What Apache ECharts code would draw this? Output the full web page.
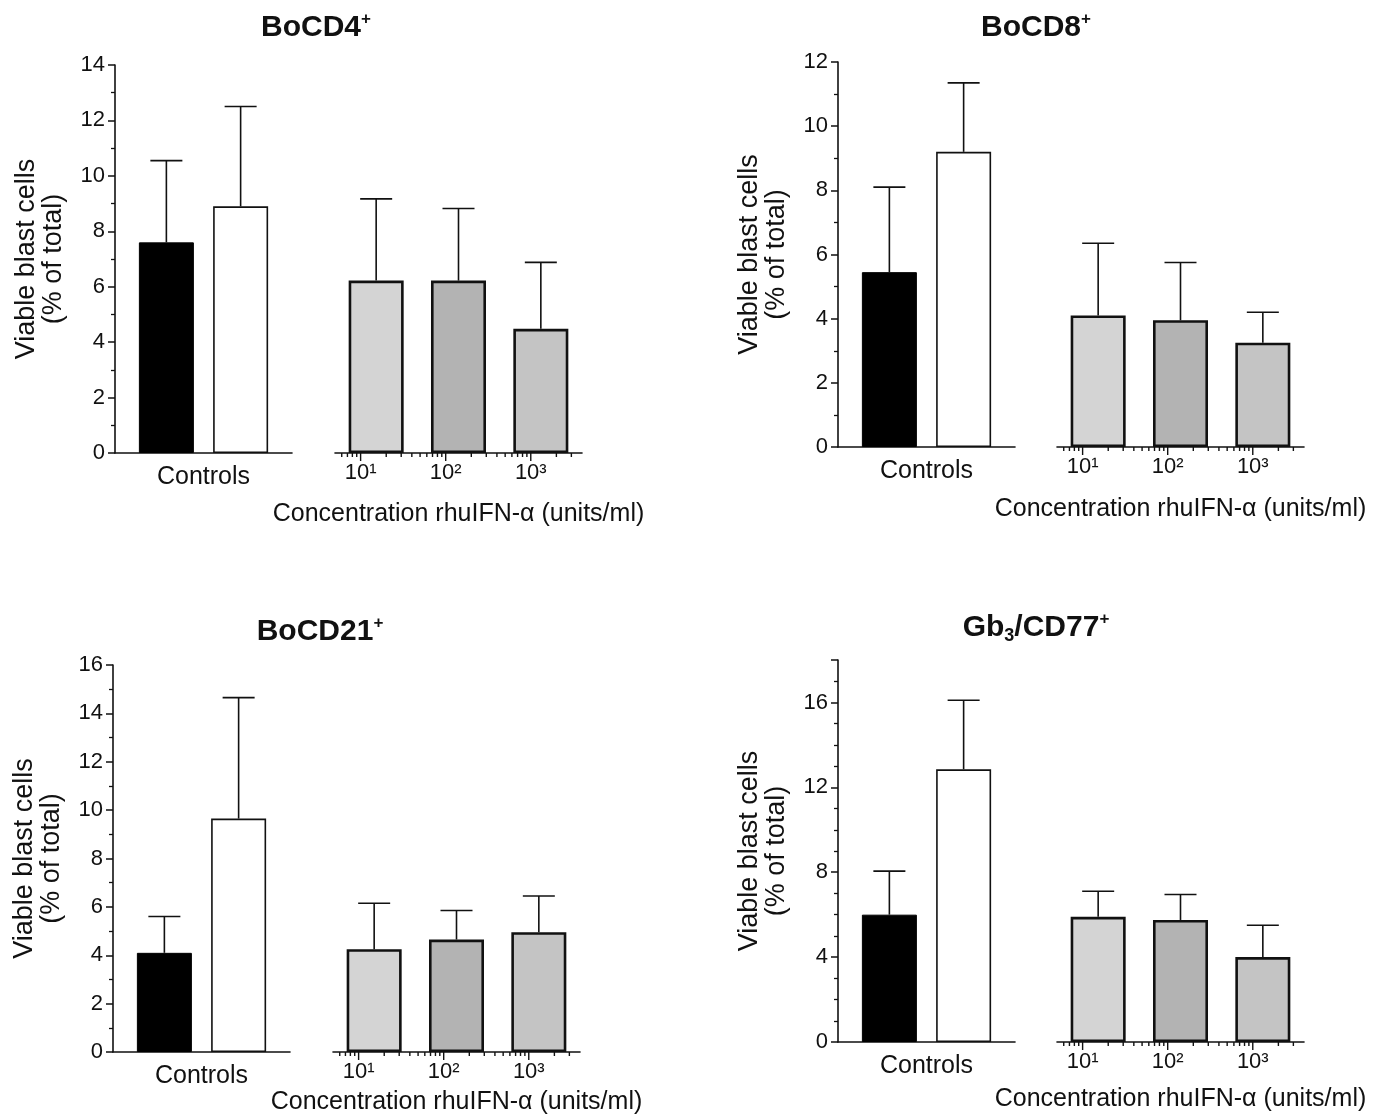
<!DOCTYPE html>
<html>
<head>
<meta charset="utf-8">
<script src="https://cdn.jsdelivr.net/npm/echarts@6/dist/echarts.min.js"></script>
<style>
html, body { margin: 0; padding: 0; background: #fff; }
#chart { width: 1377px; height: 1117px; }
</style>
</head>
<body>
<div id="chart"></div>
<script>
// ---- data ----
var panelTitles = ['BoCD4{sup|+}', 'BoCD8{sup|+}', 'BoCD21{sup|+}', 'Gb{sub|3}/CD77{sup|+}'];
var controlCategory = ['Controls'];
var doseCategories = ['10', '100', '1000'];
var doseTickValues = [10, 100, 1000];
var doseTickLabels = ['10\u00b9', '10\u00b2', '10\u00b3'];
var doseMinorTicks = [6, 7, 8, 9, 20, 30, 40, 50, 60, 70, 80, 90,
    200, 300, 400, 500, 600, 700, 800, 900, 2000, 3000];
var yAxisMax = [14, 12, 16, 18];
var yAxisStep = [2, 2, 2, 4];
var yMinorSplit = [2, 2, 2, 4];

// controls: [black, white]; dose: [10^1, 10^2, 10^3]; sd = upper error bar
var cd4Controls = [7.6, 8.9];
var cd4ControlsSd = [2.95, 3.6];
var cd4Dose = [6.22, 6.22, 4.48];
var cd4DoseSd = [2.95, 2.6, 2.4];

var cd8Controls = [5.45, 9.2];
var cd8ControlsSd = [2.65, 2.15];
var cd8Dose = [4.1, 3.95, 3.25];
var cd8DoseSd = [2.25, 1.8, 0.95];

var cd21Controls = [4.1, 9.65];
var cd21ControlsSd = [1.5, 5.0];
var cd21Dose = [4.25, 4.65, 4.95];
var cd21DoseSd = [1.9, 1.2, 1.5];

var cd77Controls = [6.0, 12.85];
var cd77ControlsSd = [2.05, 3.25];
var cd77Dose = [5.9, 5.75, 4.0];
var cd77DoseSd = [1.2, 1.2, 1.5];

var panels = [
    {ctrl: cd4Controls, ctrlSd: cd4ControlsSd, dose: cd4Dose, doseSd: cd4DoseSd},
    {ctrl: cd8Controls, ctrlSd: cd8ControlsSd, dose: cd8Dose, doseSd: cd8DoseSd},
    {ctrl: cd21Controls, ctrlSd: cd21ControlsSd, dose: cd21Dose, doseSd: cd21DoseSd},
    {ctrl: cd77Controls, ctrlSd: cd77ControlsSd, dose: cd77Dose, doseSd: cd77DoseSd}
];

// ---- layout ----
var layout = [
    {titleX: 316, titleY: 28, axisX: 115, top: 65, bottom: 453, doseLeft: 335, nameGap: 50},
    {titleX: 1036, titleY: 28, axisX: 838, top: 62, bottom: 447, doseLeft: 1057, nameGap: 51},
    {titleX: 320, titleY: 632, axisX: 113, top: 665, bottom: 1052, doseLeft: 333, nameGap: 39},
    {titleX: 1036, titleY: 628, axisX: 838, top: 660, bottom: 1042, doseLeft: 1057, nameGap: 46}
];
var FONT = 'Liberation Sans, Arial, sans-serif';
var INK = '#111';
var doseColors = ['#d4d4d4', '#b3b3b3', '#c4c4c4'];
var BAR_W = 55, BAR_GAP = '35%';

var chart = echarts.init(document.getElementById('chart'), null, {renderer: 'canvas'});

function errorBar(params, api) {
    var cat = api.value(0), mean = api.value(1), sd = api.value(2), slot = api.value(3);
    var base = api.coord([cat, mean]);
    var top = api.coord([cat, mean + sd]);
    var dx = 0;
    if (slot >= 0) {
        var lay = api.barLayout({count: 2, barWidth: BAR_W, barGap: BAR_GAP});
        dx = lay[slot].offsetCenter;
    }
    var x = base[0] + dx;
    var st = {stroke: INK, lineWidth: 1.6};
    return {type: 'group', children: [
        {type: 'line', shape: {x1: x, y1: base[1], x2: x, y2: top[1]}, style: st},
        {type: 'line', shape: {x1: x - 16, y1: top[1], x2: x + 16, y2: top[1]}, style: st}
    ]};
}

function logTick(params, api) {
    var p = api.coord([api.value(0), 0]);
    var len = api.value(2);
    return {type: 'line', shape: {x1: p[0], y1: p[1], x2: p[0], y2: p[1] + len},
        style: {stroke: INK, lineWidth: 1.4}};
}

var option = {
    backgroundColor: '#fff',
    animation: false,
    textStyle: {fontFamily: FONT, color: INK},
    title: [], grid: [], xAxis: [], yAxis: [], series: []
};

panels.forEach(function (p, i) {
    var L = layout[i];
    var h = L.bottom - L.top;
    var gc = 2 * i, gd = 2 * i + 1;
    var xc = 3 * i, xd = 3 * i + 1, xl = 3 * i + 2;

    option.title.push({
        text: panelTitles[i], left: L.titleX, top: L.titleY, padding: 0,
        textAlign: 'center', textVerticalAlign: 'middle',
        textStyle: {fontFamily: FONT, fontSize: 30, fontWeight: 'bold', color: INK, lineHeight: 34,
            rich: {
                sup: {fontFamily: FONT, fontSize: 17, fontWeight: 'bold', color: INK, verticalAlign: 'top', lineHeight: 20},
                sub: {fontFamily: FONT, fontSize: 18, fontWeight: 'bold', color: INK, verticalAlign: 'bottom', lineHeight: 14}
            }}
    });

    option.grid.push({left: L.axisX, top: L.top, width: 177, height: h, outerBoundsMode: 'none'});
    option.grid.push({left: L.doseLeft, top: L.top, width: 247, height: h, outerBoundsMode: 'none'});

    var axisLine = {show: true, lineStyle: {color: INK, width: 1.6}};
    option.xAxis.push({
        type: 'category', gridIndex: gc, data: controlCategory,
        axisLine: axisLine, axisTick: {show: false},
        axisLabel: {fontSize: 25, margin: 12, color: INK, fontFamily: FONT}
    });
    option.xAxis.push({type: 'category', gridIndex: gd, data: doseCategories, show: false});
    option.xAxis.push({
        type: 'log', logBase: 10, gridIndex: gd, min: 5, max: 4000, position: 'bottom',
        axisLine: axisLine, axisTick: {show: false}, splitLine: {show: false},
        axisLabel: {fontSize: 22, margin: 9, color: INK, fontFamily: FONT,
            formatter: function (v) {
                for (var k = 0; k < doseTickValues.length; k++) {
                    if (Math.abs(v - doseTickValues[k]) < doseTickValues[k] * 1e-6) return doseTickLabels[k];
                }
                return '';
            }},
        name: 'Concentration rhuIFN-\u03b1 (units/ml)', nameLocation: 'middle', nameGap: L.nameGap - 1,
        nameTextStyle: {fontSize: 25, color: INK, fontFamily: FONT}
    });

    option.yAxis.push({
        type: 'value', gridIndex: gc, min: 0, max: yAxisMax[i], interval: yAxisStep[i],
        axisLine: axisLine,
        axisTick: {show: true, length: 7, lineStyle: {color: INK, width: 1.5}},
        minorTick: {show: true, splitNumber: yMinorSplit[i], length: 4, lineStyle: {color: INK, width: 1.3}},
        splitLine: {show: false},
        axisLabel: {fontSize: 22, margin: 10, color: INK, fontFamily: FONT, showMaxLabel: i !== 3},
        name: 'Viable blast cells\n(% of total)', nameLocation: 'middle', nameRotate: 90, nameGap: 48,
        nameTextStyle: {fontSize: 27, lineHeight: 27, color: INK, fontFamily: FONT}
    });
    option.yAxis.push({type: 'value', gridIndex: gd, min: 0, max: yAxisMax[i], show: false});

    option.series.push({
        type: 'bar', xAxisIndex: xc, yAxisIndex: 2 * i, data: [p.ctrl[0]],
        barWidth: BAR_W, barGap: BAR_GAP,
        itemStyle: {color: '#000', borderColor: '#000', borderWidth: 1}
    });
    option.series.push({
        type: 'bar', xAxisIndex: xc, yAxisIndex: 2 * i, data: [p.ctrl[1]],
        barWidth: BAR_W, barGap: BAR_GAP,
        itemStyle: {color: '#fff', borderColor: INK, borderWidth: 1.6}
    });
    option.series.push({
        type: 'custom', xAxisIndex: xc, yAxisIndex: 2 * i, renderItem: errorBar, clip: false, z: 5,
        encode: {x: 0, y: 1},
        data: p.ctrl.map(function (v, k) { return [0, v, p.ctrlSd[k], k]; })
    });

    option.series.push({
        type: 'bar', xAxisIndex: xd, yAxisIndex: 2 * i + 1, barWidth: BAR_W,
        data: p.dose.map(function (v, k) {
            return {value: v, itemStyle: {color: doseColors[k], borderColor: INK, borderWidth: 2.6}};
        })
    });
    option.series.push({
        type: 'custom', xAxisIndex: xd, yAxisIndex: 2 * i + 1, renderItem: errorBar, clip: false, z: 5,
        encode: {x: 0, y: 1},
        data: p.dose.map(function (v, k) { return [k, v, p.doseSd[k], -1]; })
    });
    option.series.push({
        type: 'custom', xAxisIndex: xl, yAxisIndex: 2 * i + 1, renderItem: logTick, clip: false, silent: true, z: 6,
        encode: {x: 0, y: 1},
        data: doseTickValues.map(function (v) { return [v, 0, 8]; })
            .concat(doseMinorTicks.map(function (v) { return [v, 0, 4]; }))
    });
});

chart.setOption(option);
</script>
</body>
</html>
